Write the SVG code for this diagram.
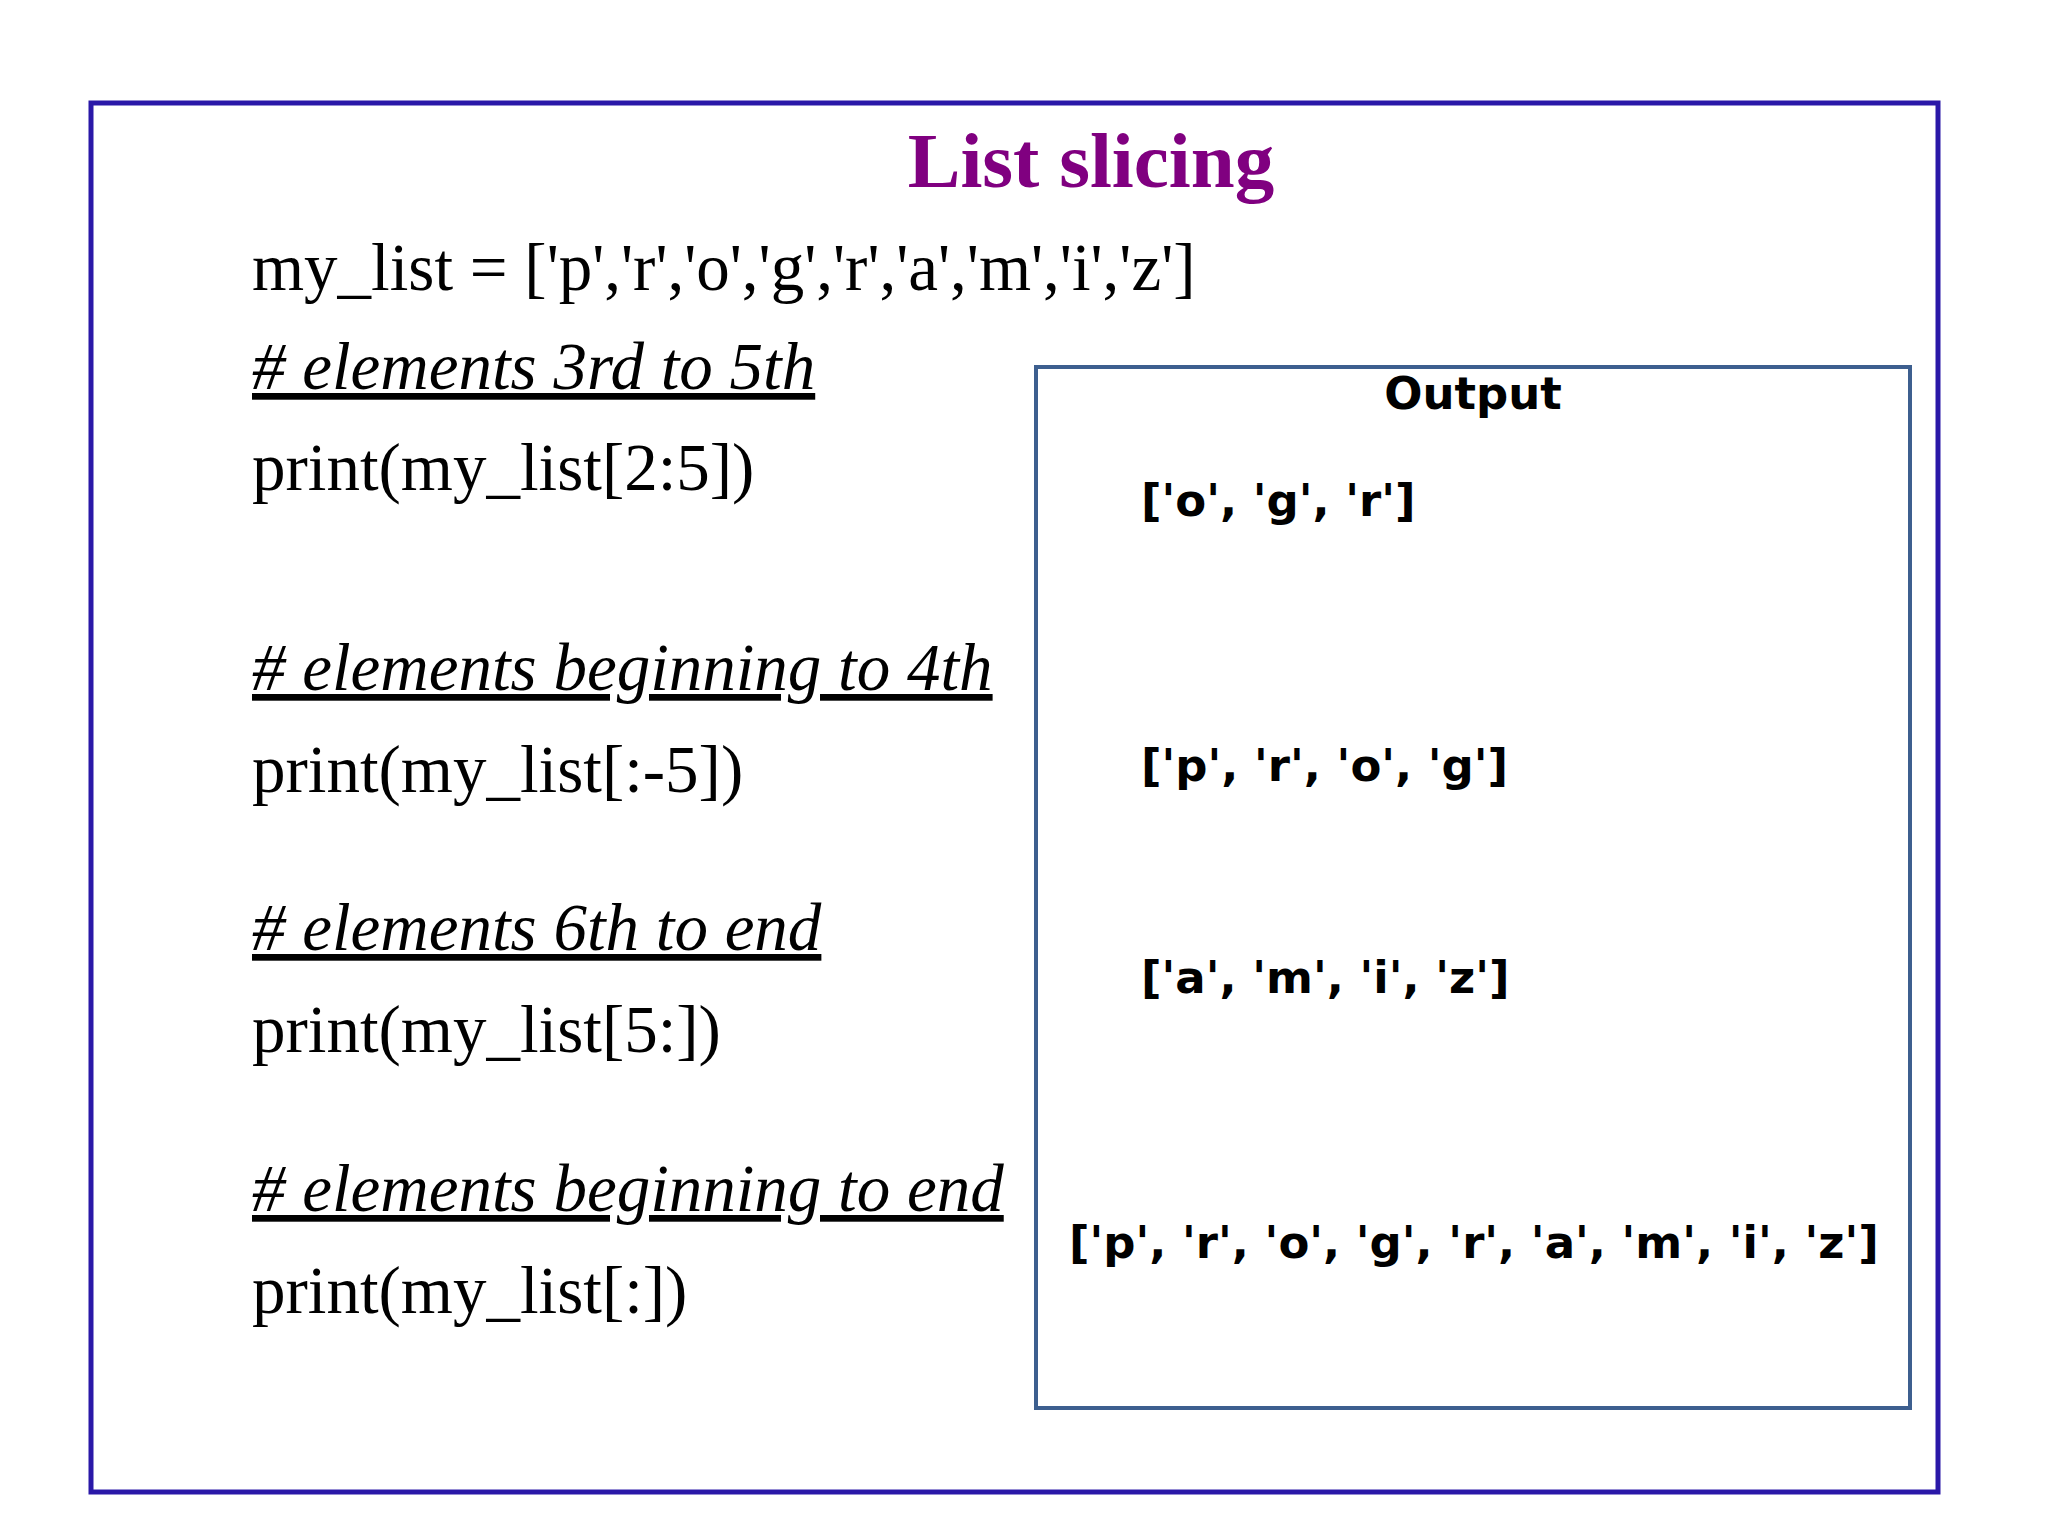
<svg xmlns="http://www.w3.org/2000/svg" width="2048" height="1536" viewBox="0 0 2048 1536">
<style>
.code{font-family:"Liberation Serif","Times New Roman",serif;font-size:67px;fill:#000}
.cm{font-style:italic;text-decoration:underline}
.out{font-family:"DejaVu Sans",sans-serif;font-weight:bold;font-size:45px;fill:#000}
</style>
<rect width="2048" height="1536" fill="#fff"/>
<g id="frame"><rect x="91" y="103" width="1847" height="1389" fill="none" stroke="#2a18a8" stroke-width="5"/></g>
<g id="title"><text x="1091" y="187" text-anchor="middle" font-family="Liberation Serif,serif" font-weight="bold" font-size="79" fill="#800080">List slicing</text></g>
<g id="code">
<text class="code" x="252" y="290">my_list = ['p','r','o','g','r','a','m','i','z']</text>
<text class="code cm" x="252" y="389"># elements 3rd to 5th </text>
<text class="code" x="252" y="490">print(my_list[2:5])</text>
<text class="code cm" x="252" y="690"># elements beginning to 4th </text>
<text class="code" x="252" y="792">print(my_list[:-5])</text>
<text class="code cm" x="252" y="950"># elements 6th to end </text>
<text class="code" x="252" y="1052">print(my_list[5:])</text>
<text class="code cm" x="252" y="1211"># elements beginning to end </text>
<text class="code" x="252" y="1313">print(my_list[:])</text>
</g>
<g id="output">
<rect x="1036" y="367" width="874" height="1041" fill="none" stroke="#3d5f8f" stroke-width="4"/>
<text class="out" x="1473" y="409" text-anchor="middle">Output</text>
<text class="out" x="1141" y="516">['o', 'g', 'r']</text>
<text class="out" x="1141" y="781">['p', 'r', 'o', 'g']</text>
<text class="out" x="1141" y="993">['a', 'm', 'i', 'z']</text>
<text class="out" x="1069" y="1258">['p', 'r', 'o', 'g', 'r', 'a', 'm', 'i', 'z']</text>
</g>
</svg>
